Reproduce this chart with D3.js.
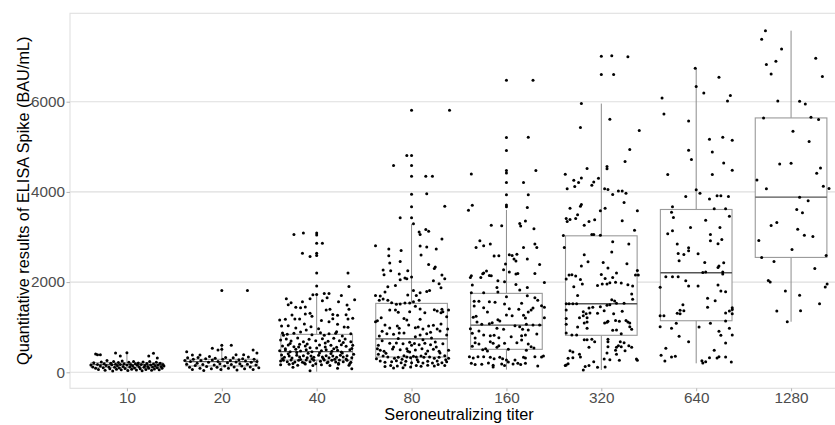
<!DOCTYPE html>
<html>
<head>
<meta charset="utf-8">
<script src="https://cdn.jsdelivr.net/npm/d3@7"></script>
<style>
  body { margin: 0; background: #fff; }
  #main { width: 835px; height: 425px; }
  text { font-family: "Liberation Sans", Arial, sans-serif; }
</style>
</head>
<body>
<div id="main"></div>
<script>
// titer groups and box stats
const titers = ["10", "20", "40", "80", "160", "320", "640", "1280"];
const q1  = [111, 140, 272, 339, 509, 820, 1143, 2547];
const med = [170, 235, 456, 740, 1048, 1520, 2207, 3883];
const q3  = [213, 288, 841, 1528, 1750, 3026, 3610, 5640];
const lo  = [20, 20, 13, 88, 60, 51, 199, 1121];
const hi  = [435, 598, 1712, 3292, 3600, 5958, 6747, 7575];
const yTicks = [0, 2000, 4000, 6000];

// jittered points: [offset in group widths, value]
const pts10 = [[-0.38,160],[-0.36,120],[-0.35,210],[-0.33,405],[-0.33,90],[-0.31,391],[-0.31,175],[-0.30,60],[-0.28,391],[-0.28,140],[-0.27,230],[-0.25,100],[-0.24,190],[-0.23,45],[-0.22,150],[-0.21,260],[-0.19,120],[-0.18,80],[-0.17,200],[-0.16,165],[-0.15,30],[-0.14,240],[-0.13,110],[-0.12,428],[-0.12,180],[-0.11,70],[-0.10,145],[-0.09,215],[-0.08,95],[-0.07,362],[-0.07,170],[-0.06,55],[-0.05,250],[-0.04,130],[-0.03,190],[-0.02,85],[0.00,435],[0.00,160],[0.01,40],[0.02,220],[0.03,115],[0.04,175],[0.05,65],[0.06,140],[0.07,240],[0.08,95],[0.09,190],[0.10,50],[0.11,155],[0.12,205],[0.13,120],[0.14,80],[0.15,170],[0.16,35],[0.17,230],[0.18,110],[0.19,150],[0.20,60],[0.21,195],[0.22,130],[0.23,362],[0.23,90],[0.24,240],[0.25,160],[0.26,45],[0.27,115],[0.28,420],[0.28,185],[0.29,75],[0.30,140],[0.31,220],[0.32,317],[0.32,100],[0.33,160],[0.34,55],[0.35,200],[0.36,130],[0.37,90],[0.38,175],[0.39,140]];

const pts20 = [[0.00,1816],[0.27,1816],[-0.37,456],[-0.10,532],[0.00,598],[0.10,598],[0.00,510],[-0.04,495],[0.33,495],[0.37,427],[-0.31,383],[-0.23,383],[0.15,391],[0.23,391],[-0.39,260],[-0.37,180],[-0.36,320],[-0.34,110],[-0.33,240],[-0.31,60],[-0.30,290],[-0.28,150],[-0.26,200],[-0.25,330],[-0.23,90],[-0.22,260],[-0.20,170],[-0.19,40],[-0.17,300],[-0.16,130],[-0.14,220],[-0.13,350],[-0.11,80],[-0.10,270],[-0.08,160],[-0.07,310],[-0.05,110],[-0.04,240],[-0.02,190],[-0.01,60],[0.01,290],[0.03,140],[0.04,330],[0.06,210],[0.07,90],[0.09,260],[0.10,170],[0.12,320],[0.13,120],[0.15,230],[0.16,50],[0.18,280],[0.19,190],[0.21,140],[0.22,300],[0.24,80],[0.25,250],[0.27,180],[0.28,340],[0.30,120],[0.31,220],[0.33,60],[0.34,290],[0.36,160],[0.37,240],[0.39,100]];

const pts40 = [[-0.24,3057],[-0.14,3087],[0,3087],[0,3042],[0,2864],[0.06,2864],[-0.15,2642],[-0.07,2568],[0,2642],[0,2591],[0,2199],[0.33,2199],[0,1912],[0.34,1905],[-0.04,1719],[0,1727],[0.08,1749],[0.13,1749],[-0.32,1631],[-0.07,1631],[0.06,1587],[0.40,1609],[-0.27,1543],[-0.15,1565],[0.23,1565],[0.11,1653],[0.32,1491],[-0.22,1440],[-0.17,1432],[0.14,1396],[0.34,1396],[-0.26,1270],[-0.12,1292],[-0.07,1307],[0.17,1284],[0.22,1262],[0.31,1277],[0.38,1196],[-0.39,1159],[-0.33,1174],[-0.23,1181],[-0.18,1181],[-0.05,1240],[0.13,1122],[0.17,1188],[0.33,1181],[-0.37,1026],[-0.30,1034],[-0.13,1070],[-0.06,1011],[0.02,967],[0.22,1063],[0.29,1004],
  [-0.36,871],[-0.31,842],[-0.24,864],[-0.17,894],[-0.11,938],[-0.05,834],[0.04,879],[0.08,820],[0.13,857],[0.2,864],[0.27,805],[0.36,857],
  [-0.38,715],[-0.32,738],[-0.27,693],[-0.2,760],[-0.14,678],[-0.08,731],[-0.01,701],[0.06,745],[0.12,686],[0.18,753],[0.24,701],[0.3,738],[0.36,678],
  [-0.36,583],[-0.3,605],[-0.24,568],[-0.18,620],[-0.12,583],[-0.07,546],[0.03,605],[0.09,561],[0.15,597],[0.21,553],[0.26,612],[0.31,575],[0.38,597],
  [-0.39,479],[-0.33,494],[-0.28,458],[-0.22,509],[-0.17,472],[-0.11,502],[-0.05,458],[0.05,479],[0.1,502],[0.16,465],[0.22,487],[0.26,450],[0.35,502],
  [-0.37,383],[-0.34,332],[-0.29,362],[-0.26,317],[-0.21,376],[-0.18,340],[-0.14,369],[-0.1,325],[-0.06,362],[-0.03,332],[0.02,376],[0.06,340],[0.1,369],[0.13,325],[0.17,362],[0.21,332],[0.25,376],[0.28,340],[0.32,369],[0.37,325],
  [-0.35,266],[-0.31,236],[-0.27,273],[-0.23,229],[-0.19,266],[-0.15,221],[-0.11,273],[-0.07,236],[-0.03,266],[0.04,244],[0.08,273],[0.12,229],[0.16,266],[0.2,229],[0.24,273],[0.28,236],[0.32,266],[0.36,221],
  [-0.38,169],[-0.29,177],[-0.2,155],[-0.12,184],[-0.04,148],[0.05,169],[0.14,148],[0.23,177],[0.34,155],[-0.07,35],[-0.25,111],[0.22,89],[0.37,81],
  [-0.36,300],[-0.30,410],[-0.25,195],[-0.21,440],[-0.17,285],[-0.13,205],[-0.09,420],[-0.05,300],[-0.01,190],[0.03,430],[0.07,305],[0.11,210],[0.15,415],[0.19,290],[0.23,200],[0.27,425],[0.31,295],[0.35,195],[0.39,400],[-0.38,250],[-0.33,520],[-0.28,640],[-0.19,560],[-0.10,630],[0.00,540],[0.09,650],[0.18,520],[0.28,660],[0.37,530],[-0.35,820],[-0.22,980],[0.05,1150],[0.21,900],[0.33,1000],[-0.12,1450],[0.26,1700],[-0.30,1500],[0.10,1380]];

const pts80 = [[0,5810],[0.40,5810],[-0.05,4807],[0,4807],[-0.19,4585],[0,4585],[0,4348],[0.15,4348],[0.22,4348],[0,3950],[0.16,3957],[0,3669],[0.35,3683],[-0.12,3425],[0,3425],[0.02,3292],[0.15,3167],[0.18,3130],[0.08,3108],[0.09,3057],[0.32,2953],[-0.38,2805],[-0.24,2731],[0.09,2798],[0.16,2776],[-0.11,2701],[0.26,2731],[-0.24,2583],[0.1,2598],[-0.23,2421],[-0.12,2458],[0.18,2391],[0.25,2332],[0.24,2303],[-0.3,2266],[-0.22,2251],[-0.29,2162],[-0.13,2177],[-0.04,2251],[0,2111],[-0.07,2089],[-0.05,2074],[-0.12,2052],[0.32,2155],[0.35,2074],[0.29,1963],[0.23,2030],[-0.17,1927],[-0.25,1897],[0.31,1875],[-0.28,1779],[0.02,1816],[0.09,1764],[0.16,1794],[0.19,1816],[-0.38,1705],[-0.33,1690],[-0.3,1624],[-0.04,1712],[0.05,1705],[-0.34,1595],[-0.25,1595],[0.08,1595],[-0.21,1543],[-0.16,1506],[-0.12,1514],[-0.07,1536],[-0.02,1536],[0.02,1566],[0.04,1462],[0.09,1403],[0.24,1388],[0.27,1358],[0.32,1396],[-0.23,1380],[-0.17,1380],[-0.14,1329],[-0.02,1344],[0.14,1322],[0.31,1322],[0.33,1344],[0.39,1380],[-0.32,1210],[-0.08,1195],[-0.05,1159],[0.09,1174],[0.37,1233],[-0.38,1122],[-0.36,1144],[-0.28,1048],[-0.23,982],[-0.15,1026],[-0.13,974],[-0.03,1048],[0.04,989],[0.07,1004],[0.12,960],[0.18,1026],[0.23,1041],[0.27,960],[0.31,1070],[0.38,960],[-0.31,908],[-0.26,857],[-0.34,805],[-0.19,842],[-0.13,871],[-0.08,871],[0.04,790],[0.09,827],[0.16,857],[0.2,886],[0.3,916],[0.37,827],[-0.23,642],[-0.16,649],[-0.09,634],[-0.02,664],[0,597],[0.08,612],[0.14,642],[0.2,612],[0.25,671],[0.33,634],[-0.36,524],[-0.33,487],[-0.29,465],[-0.2,517],[-0.12,502],[-0.05,524],[-0.04,465],[0.04,494],[0.11,524],[0.17,472],[0.23,509],[0.29,465],[0.39,487],[-0.35,399],[-0.3,362],[-0.25,340],[-0.18,310],[-0.14,332],[-0.08,369],[-0.05,340],[-0.01,325],[0.02,354],[0.05,340],[0.1,362],[0.13,332],[0.19,340],[0.24,310],[0.29,332],[0.35,369],[0.39,310],[-0.33,251],[-0.28,221],[-0.21,236],[-0.16,258],[-0.11,214],[-0.06,244],[0,214],[0.07,236],[0.12,207],[0.17,244],[0.22,207],[0.27,251],[0.32,214],[0.37,236],[-0.28,126],[-0.22,148],[-0.15,140],[-0.07,162],[-0.01,118],[0.05,148],[0.1,133],[0.17,155],[0.24,140],[0.28,170],[0.35,148],[-0.19,96],[-0.09,103],
  [-0.37,300],[-0.27,420],[-0.19,560],[-0.10,290],[-0.02,450],[0.06,280],[0.15,410],[0.26,560],[0.36,280],[-0.31,700],[0.12,720],[0.30,430],[-0.14,750],[0.21,760],[-0.35,600],[0.03,640]];

const pts160 = [[0,6474],[0.28,6474],[0,5205],[0.23,5212],[0,4917],[-0.37,4399],[0,4473],[0,4421],[0.31,4473],[0,4208],[0.18,4208],[0,3934],[0.23,3934],[0,3712],[0,3668],[0.22,3654],[-0.36,3706],[-0.40,3595],[-0.16,3263],[-0.05,3248],[0.14,3300],[0.15,3241],[0.20,3352],[0.29,3181],[-0.28,2915],[-0.17,2842],[-0.32,2769],[-0.24,2805],[0.30,2842],[0.32,2769],[0.18,2769],[-0.13,2576],[-0.08,2583],[0.03,2605],[0.06,2590],[0.11,2620],[0.08,2510],[0.10,2465],[0.22,2510],[-0.01,2399],[0.35,2391],[-0.03,2273],[-0.24,2200],[-0.21,2244],[-0.25,2185],[-0.16,2141],[-0.18,2148],[0.10,2177],[0.12,2192],[0.03,2222],[0.30,2192],[-0.27,2104],[-0.37,2141],[-0.38,2104],[-0.09,2030],[-0.02,2007],[0.40,1993],[-0.36,1934],[-0.10,1882],[0.10,1948],[0.14,1823],[-0.09,1779],[0.22,1882],[-0.37,1763],[-0.24,1763],[0,1675],[0.22,1697],[0.30,1653],[-0.34,1573],[-0.29,1573],[-0.18,1566],[-0.12,1551],[-0.34,1470],[-0.02,1514],[0.16,1529],[0.33,1595],[0.37,1477],[0.40,1440],[0.28,1425],[0.26,1381],[0.23,1337],[-0.24,1433],[0.03,1411],[0.13,1396],[-0.2,1336],[0,1270],[0.06,1255],[0.18,1262],[0.2,1203],[0.40,1210],[-0.32,1240],[-0.35,1218],[-0.09,1166],[-0.07,1137],[-0.31,1114],[-0.18,1078],[-0.15,1100],[-0.26,1063],[0.09,1034],[0.14,1011],[0.21,1063],[0.28,1048],[0.35,1048],[-0.38,966],[-0.29,915],[-0.1,974],[-0.03,952],[0.17,952],[0.23,938],[-0.36,864],[-0.24,827],[-0.17,812],[-0.13,820],[-0.08,768],[0.05,790],[0.16,812],[0.20,827],[0.32,849],[-0.33,761],[-0.33,656],[-0.29,627],[-0.17,678],[-0.14,642],[-0.10,553],[-0.08,590],[-0.02,642],[0.11,656],[0.16,715],[0.23,627],[0.26,568],[-0.36,575],[-0.25,501],[-0.22,524],[-0.20,472],[0.02,509],[0.21,487],[0.29,539],[-0.39,346],[-0.35,317],[-0.30,346],[-0.24,346],[-0.17,332],[-0.13,302],[-0.07,332],[-0.04,302],[0,273],[0.02,229],[0.09,273],[0.12,199],[0.18,332],[0.20,317],[0.30,346],[0.39,361],[-0.37,199],[-0.33,170],[-0.26,177],[-0.19,207],[-0.14,155],[-0.05,184],[-0.02,148],[0.07,184],[0.15,170],[0.20,199],[0.33,140],[0.37,339],[-0.14,118]];

const pts320 = [[0,7006],[0.11,7021],[0.28,6999],[0,6601],[0.13,6601],[-0.21,5958],[0.09,5611],[-0.22,5427],[0.40,5360],[0.30,4939],[0.25,4674],[0.06,4563],[0.06,4511],[-0.15,4518],[-0.38,4392],[-0.21,4310],[-0.03,4303],[-0.29,4259],[-0.24,4207],[-0.08,4222],[-0.10,4149],[-0.36,4067],[-0.28,4119],[0.035,4067],[0.07,4052],[0.18,4022],[0.22,4022],[0.12,3943],[0.26,3972],[0.24,3766],[-0.21,3721],[-0.22,3684],[-0.33,3639],[0.04,3639],[-0.01,3580],[0.38,3580],[-0.25,3491],[-0.37,3411],[-0.36,3345],[-0.33,3388],[-0.27,3411],[-0.13,3345],[-0.07,3381],[-0.18,3263],[0.22,3360],[0.35,3152],[-0.10,3057],[-0.08,3057],[-0.01,3041],[-0.40,3034],[-0.39,2769],[0.12,2893],[0.29,2842],[0.11,2665],[-0.18,2605],[-0.14,2450],[0.02,2435],[0.27,2406],[-0.21,2355],[0.07,2311],[0.38,2259],[-0.34,2155],[-0.31,2162],[-0.27,2133],[0.16,2199],[0.12,2104],[0,2170],[0.36,2155],[0.39,2155],[-0.37,2067],[-0.22,2060],[0.04,2082],[0.09,1985],[0.21,1978],[-0.29,1896],[-0.20,1955],[-0.04,1926],[0.01,1955],[0.06,1955],[0.15,1999],[0.28,1941],[0.33,1911],[0.32,1734],[-0.25,1705],[0.33,1617],[0.11,1610],[0.14,1580],[0.16,1529],[-0.34,1522],[-0.30,1522],[-0.26,1522],[-0.37,1522],[0.24,1529],[0.06,1485],[-0.01,1455],[0.09,1499],[-0.09,1440],[-0.13,1425],[-0.37,1381],[0.03,1366],[-0.19,1344],[-0.16,1300],[0.22,1351],[-0.12,1314],[-0.04,1307],[0.13,1300],[-0.19,1254],[-0.15,1210],[-0.37,1195],[-0.23,1210],[0.26,1151],[0.28,1114],[0.30,1092],[0.035,1092],[0.06,1107],[0.07,1129],[0.15,1151],[0.19,1129],[-0.15,1114],[-0.18,1092],[-0.37,1063],[-0.15,975],[-0.25,1004],[0.30,1011],[0.32,953],[0.12,930],[0.16,938],[-0.37,871],[-0.31,827],[-0.26,827],[0.21,857],[-0.18,722],[-0.15,722],[-0.10,730],[-0.07,678],[0.07,730],[0.07,678],[0.2,678],[0.24,656],[-0.13,554],[0.07,568],[0.16,554],[0.18,590],[0.21,568],[0.25,480],[0.29,590],[0.32,554],[0.15,487],[-0.33,480],[-0.30,451],[-0.23,399],[0.06,428],[0.16,399],[-0.22,340],[-0.35,310],[-0.30,325],[0.03,295],[0.37,295],[0.38,266],[0.19,266],[-0.08,236],[0.09,280],[-0.35,191],[-0.37,162],[-0.38,148],[-0.17,126],[-0.13,148],[-0.04,111],[0.04,118],[-0.19,51]];

const pts640 = [[-0.01,6740],[0.24,6541],[0,6335],[0.08,6193],[0.36,6135],[-0.36,6083],[0.33,6016],[-0.34,5728],[-0.08,5573],[0.14,5168],[0.28,5212],[0.38,5146],[-0.08,4924],[0.17,4887],[-0.05,4718],[0.29,4643],[0.38,4481],[-0.30,4386],[0.17,4386],[0,4045],[0.04,3971],[-0.11,3898],[0.14,3845],[0.22,3914],[0.26,3914],[0.34,3898],[-0.25,3668],[0.19,3624],[0.31,3624],[-0.26,3551],[-0.24,3433],[0.35,3462],[0.10,3373],[-0.06,3212],[0.25,3212],[-0.30,3070],[-0.25,3136],[0.15,3057],[0.27,2946],[0.15,2915],[0.23,2849],[-0.20,2842],[-0.08,2760],[-0.08,2693],[-0.19,2636],[-0.13,2614],[0.02,2627],[-0.18,2472],[0.09,2437],[0.29,2430],[0.24,2355],[0.23,2325],[0.07,2215],[0.10,2222],[0.28,2222],[0.28,2177],[-0.32,2118],[-0.25,2118],[-0.19,2118],[-0.11,2029],[-0.38,1883],[-0.08,1912],[0.02,1912],[0.23,1934],[0.26,1801],[0.31,1786],[0.12,1639],[0.20,1586],[-0.14,1497],[0.12,1440],[-0.17,1373],[-0.13,1366],[-0.20,1307],[-0.17,1300],[0.38,1432],[0.38,1395],[0.35,1358],[0.31,1314],[0.38,1300],[-0.38,1254],[-0.34,1254],[0.31,1136],[-0.21,1085],[0.15,1085],[-0.38,1010],[0.03,1003],[-0.26,975],[0.35,975],[0.24,908],[0.26,820],[-0.18,797],[0.38,827],[-0.08,678],[0.31,649],[-0.32,531],[0.19,487],[-0.37,376],[-0.26,339],[-0.22,354],[-0.33,250],[0.06,258],[0.07,206],[0.10,236],[0.14,324],[0.22,317],[0.24,346],[0.31,339],[0.37,228]];

const pts1280 = [[-0.27,7575],[-0.31,7383],[-0.10,7168],[0.26,6962],[-0.16,6895],[-0.26,6822],[-0.21,6614],[0.33,6556],[-0.14,6016],[0.09,6009],[0.15,5950],[-0.29,5640],[0.21,5655],[0.29,5604],[0.02,5345],[0.19,5117],[-0.12,4621],[0,4636],[0.31,4532],[0.27,4414],[-0.36,4266],[0.34,4127],[0.40,4076],[-0.26,4070],[0.09,3883],[0.18,3801],[0.06,3610],[0.12,3535],[-0.15,3322],[-0.21,3256],[0.07,3174],[0.14,3041],[0.23,3012],[-0.34,2924],[0.01,2724],[-0.31,2547],[0.37,2592],[-0.18,2459],[0.25,2304],[-0.24,2038],[-0.22,2000],[0.38,1956],[0.36,1889],[-0.06,1801],[0.09,1706],[0.30,1520],[-0.15,1358],[0.10,1365],[-0.04,1121]];

const points = [pts10, pts20, pts40, pts80, pts160, pts320, pts640, pts1280];

const W = 835, H = 425;
const pLeft = 70, pRight = 848, pTop = 13.3, pBottom = 388.3;

const svg = d3.select("#main").append("svg")
  .attr("width", W)
  .attr("height", H);

const x = d3.scalePoint()
  .domain(titers)
  .range([pLeft, pRight])
  .padding(0.6);

const y = d3.scaleLinear()
  .domain([-355, 7960])
  .range([pBottom, pTop]);

const step = x.step();
const boxW = step * 0.755;

// grid
svg.append("g")
  .selectAll("line")
  .data(yTicks)
  .enter()
  .append("line")
  .attr("x1", pLeft)
  .attr("x2", pRight)
  .attr("y1", d => y(d))
  .attr("y2", d => y(d))
  .attr("stroke", "#dedede")
  .attr("stroke-width", 1.1);

// boxes
const boxes = svg.append("g")
  .selectAll("g")
  .data(titers)
  .enter()
  .append("g")
  .attr("transform", d => `translate(${x(d)},0)`);

boxes.append("line")
  .attr("y1", (d, i) => y(hi[i]))
  .attr("y2", (d, i) => y(q3[i]))
  .attr("stroke", "#8c8c8c");

boxes.append("line")
  .attr("y1", (d, i) => y(q1[i]))
  .attr("y2", (d, i) => y(lo[i]))
  .attr("stroke", "#8c8c8c");

boxes.append("rect")
  .attr("x", -boxW / 2)
  .attr("width", boxW)
  .attr("y", (d, i) => y(q3[i]))
  .attr("height", (d, i) => y(q1[i]) - y(q3[i]))
  .attr("fill", "#fff")
  .attr("stroke", "#9a9a9a")
  .attr("stroke-width", 1.1);

boxes.append("line")
  .attr("x1", -boxW / 2)
  .attr("x2", boxW / 2)
  .attr("y1", (d, i) => y(med[i]))
  .attr("y2", (d, i) => y(med[i]))
  .attr("stroke", "#555")
  .attr("stroke-width", 1.3);

// jittered points
const flat = [];
points.forEach((arr, i) => {
  arr.forEach(p => flat.push({ t: titers[i], dx: p[0], v: p[1] }));
});

svg.append("g")
  .selectAll("circle")
  .data(flat)
  .enter()
  .append("circle")
  .attr("cx", d => x(d.t) + d.dx * step)
  .attr("cy", d => y(d.v))
  .attr("r", 1.5)
  .attr("fill", "#000");

// panel border
svg.append("rect")
  .attr("x", pLeft)
  .attr("y", pTop)
  .attr("width", pRight - pLeft)
  .attr("height", pBottom - pTop)
  .attr("fill", "none")
  .attr("stroke", "#e0e0e0")
  .attr("stroke-width", 1.1);

// axes
const yAxis = svg.append("g")
  .attr("transform", `translate(${pLeft},0)`)
  .call(d3.axisLeft(y).tickValues(yTicks).tickFormat(d3.format("d")).tickSize(3.5).tickPadding(1.5));

const xAxis = svg.append("g")
  .attr("transform", `translate(0,${pBottom})`)
  .call(d3.axisBottom(x).tickSize(3).tickPadding(1));

[yAxis, xAxis].forEach(a => {
  a.select(".domain").remove();
  a.selectAll(".tick line").attr("stroke", "#b3b3b3");
  a.selectAll(".tick text")
    .attr("fill", "#4d4d4d")
    .style("font-size", "15.3px")
    .style("font-family", "'Liberation Sans', Arial, sans-serif");
});

svg.append("text")
  .attr("x", (pLeft + pRight) / 2)
  .attr("y", 420)
  .attr("text-anchor", "middle")
  .style("font-size", "16.3px")
  .attr("fill", "#000")
  .text("Seroneutralizing titer");

svg.append("text")
  .attr("transform", `translate(29,${(pTop + pBottom) / 2}) rotate(-90)`)
  .attr("text-anchor", "middle")
  .style("font-size", "16.3px")
  .attr("fill", "#000")
  .text("Quantitative results of ELISA Spike (BAU/mL)");
</script>
</body>
</html>
